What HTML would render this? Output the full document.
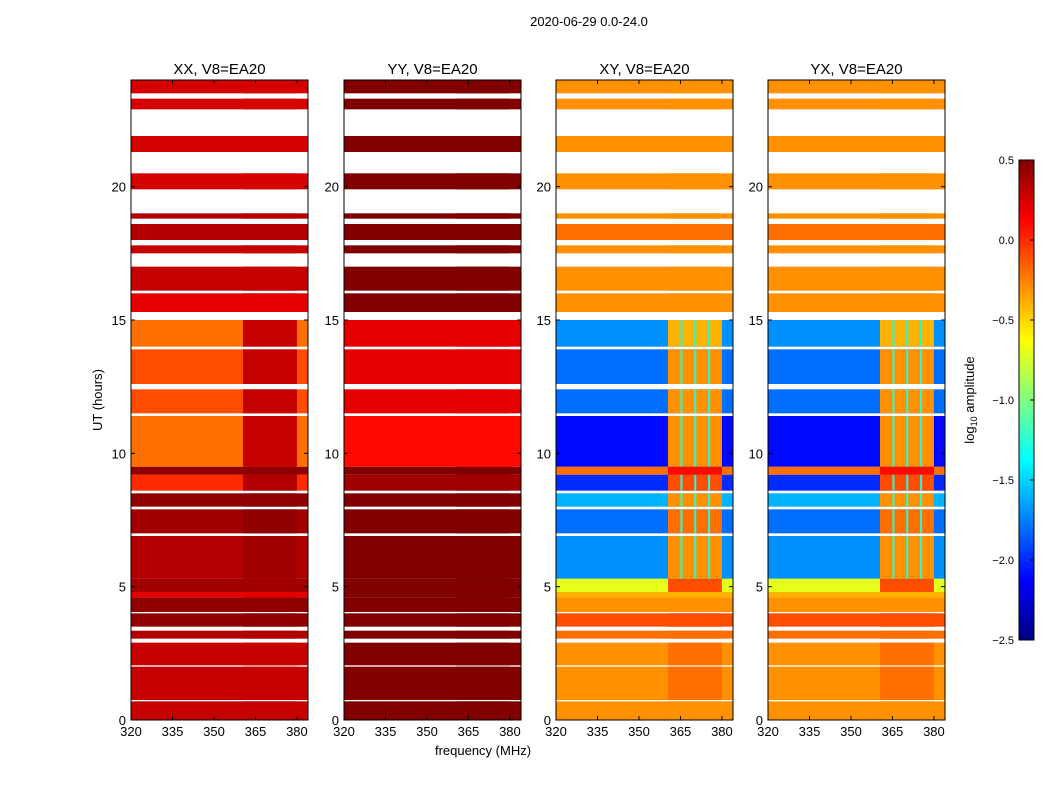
<!DOCTYPE html>
<html><head><meta charset="utf-8"><style>
html,body{margin:0;padding:0;background:#fff;}
svg{display:block;font-family:"Liberation Sans",sans-serif;}
</style></head><body>
<svg id="chart" width="1050" height="800" xmlns="http://www.w3.org/2000/svg">
<text x="589" y="26" font-size="13" text-anchor="middle">2020-06-29 0.0-24.0</text>
<text x="483" y="755" font-size="13" text-anchor="middle">frequency (MHz)</text>
<text x="102" y="400" font-size="13" text-anchor="middle" transform="rotate(-90 102 400)">UT (hours)</text>
<text x="974" y="400" font-size="13" text-anchor="middle" transform="rotate(-90 974 400)">log<tspan font-size="9" dy="3">10</tspan><tspan dy="-3"> amplitude</tspan></text>
</svg>
<script>
const bandStart = [0,0.7,0.75,2.0,2.05,2.9,3.05,3.35,3.5,4.0,4.05,4.6,4.8,5.3,6.9,7.0,7.9,8.0,8.5,8.6,9.2,9.5,11.4,11.5,12.4,12.6,13.9,14.0,15.0,15.3,16.0,16.1,17.0,17.5,17.8,18.0,18.6,18.8,19.0,19.9,20.5,21.3,21.9,22.3,22.9,23.3,23.5];
const bandEnd   = [0.7,0.75,2.0,2.05,2.9,3.05,3.35,3.5,4.0,4.05,4.6,4.8,5.3,6.9,7.0,7.9,8.0,8.5,8.6,9.2,9.5,11.4,11.5,12.4,12.6,13.9,14.0,15.0,15.3,16.0,16.1,17.0,17.5,17.8,18.0,18.6,18.8,19.0,19.9,20.5,21.3,21.9,22.3,22.9,23.3,23.5,24];
const xxVals    = [0.3,null,0.3,null,0.3,null,0.35,null,0.45,null,0.45,0.2,0.4,0.35,null,0.4,null,0.45,null,0.0,0.45,-0.2,null,-0.1,null,-0.1,null,-0.2,null,0.2,null,0.3,null,0.3,null,0.35,null,0.35,null,0.25,null,0.25,null,null,0.25,null,0.25];
const xxBlock   = [0.3,null,0.3,null,0.3,null,0.35,null,0.45,null,0.45,0.2,0.4,0.4,null,0.45,null,0.45,null,0.35,0.45,0.3,null,0.3,null,0.3,null,0.3,null,0.2,null,0.3,null,0.3,null,0.35,null,0.35,null,0.25,null,0.25,null,null,0.25,null,0.25];
const yyVals    = [0.5,null,0.5,null,0.5,null,0.5,null,0.5,null,0.5,0.5,0.5,0.5,null,0.5,null,0.5,null,0.4,0.5,0.1,null,0.2,null,0.2,null,0.2,null,0.5,null,0.5,null,0.5,null,0.5,null,0.5,null,0.5,null,0.5,null,null,0.5,null,0.5];
const xyVals    = [-0.3,null,-0.3,null,-0.3,null,-0.2,null,-0.1,null,-0.3,-0.4,-0.7,-1.7,null,-1.8,null,-1.6,null,-2.0,-0.2,-2.1,null,-1.8,null,-1.8,null,-1.7,null,-0.3,null,-0.3,null,-0.3,null,-0.2,null,-0.3,null,-0.3,null,-0.3,null,null,-0.3,null,-0.3];
const xyBlock   = [-0.3,null,-0.2,null,-0.2,null,-0.2,null,-0.1,null,-0.3,-0.4,-0.1,-0.3,null,-0.2,null,-0.3,null,-0.1,0.1,-0.3,null,-0.3,null,-0.3,null,-0.4,null,-0.3,null,-0.3,null,-0.3,null,-0.2,null,-0.3,null,-0.3,null,-0.3,null,null,-0.3,null,-0.3];
const panelTitles = ["XX, V8=EA20","YY, V8=EA20","XY, V8=EA20","YX, V8=EA20"];
const panelLeft = [131,344,556,768];
const blockFreq = [360.5,380];
const blockLines = [365,370,375];
const xTicks = [320,335,350,365,380];
const yTicks = [0,5,10,15,20];
const cbTicks = [0.5,0.0,-0.5,-1.0,-1.5,-2.0,-2.5];

const NS="http://www.w3.org/2000/svg";
const svg=document.getElementById('chart');
function mk(t,a,p){const e=document.createElementNS(NS,t);for(const k in a)e.setAttribute(k,a[k]);(p||svg).appendChild(e);return e;}
const PW=177, TOP=80, BOT=720, FMIN=320, FMAX=384, VMIN=-2.5, VMAX=0.5;
function yS(h){return BOT-(h/24)*(BOT-TOP);}
function xS(f,l){return l+(f-FMIN)/(FMAX-FMIN)*PW;}
function jet(v){let t=(v-VMIN)/(VMAX-VMIN);t=Math.max(0,Math.min(1,t));
 const r=Math.max(0,Math.min(1,1.5-Math.abs(4*t-3))),g=Math.max(0,Math.min(1,1.5-Math.abs(4*t-2))),b=Math.max(0,Math.min(1,1.5-Math.abs(4*t-1)));
 return `rgb(${Math.round(r*255)},${Math.round(g*255)},${Math.round(b*255)})`;}
const panelData=[[xxVals,xxBlock],[yyVals,yyVals],[xyVals,xyBlock],[xyVals,xyBlock]];
panelLeft.forEach((L,p)=>{
 const g=mk('g',{});
 
 
 const [vals,blk]=panelData[p];
 bandStart.forEach((s,i)=>{
  const y0=yS(bandEnd[i]),y1=yS(s);
  if(vals[i]!==null){
   const r=mk('rect',{x:L,y:y0,width:PW,height:y1-y0,fill:jet(vals[i])},g);
   
   
  }
  if(blk[i]!==null){
   const bx=xS(blockFreq[0],L),bw=xS(blockFreq[1],L)-bx;
   const r2=mk('rect',{x:bx,y:y0,width:bw,height:y1-y0,fill:jet(blk[i])},g);
   
   
   if(p>=2&&vals[i]<-1){blockLines.forEach(f=>{mk('rect',{x:xS(f,L),y:y0,width:2,height:y1-y0,fill:jet(-1.3)},g);});}
  }
 });
 const fr=mk('rect',{x:L,y:TOP,width:PW,height:BOT-TOP,fill:'none',stroke:'#000','stroke-width':1});
 
 
 const tt=mk('text',{x:L+PW/2,y:74,'font-size':15,'text-anchor':'middle'});tt.textContent=panelTitles[p];
 
 
 xTicks.forEach(f=>{const x=xS(f,L);mk('line',{x1:x,x2:x,y1:BOT,y2:BOT-4,stroke:'#000'});mk('line',{x1:x,x2:x,y1:TOP,y2:TOP+4,stroke:'#000'});
  const t=mk('text',{x:x,y:BOT+16,'font-size':13,'text-anchor':'middle'});t.textContent=f;
  
  });
 yTicks.forEach(h=>{const y=yS(h);mk('line',{x1:L,x2:L+4,y1:y,y2:y,stroke:'#000'});mk('line',{x1:L+PW,x2:L+PW-4,y1:y,y2:y,stroke:'#000'});
  const t=mk('text',{x:L-5,y:y+5,'font-size':13,'text-anchor':'end'});t.textContent=h;
  
  });
});
// colorbar
const CBX=1019,CBW=15,CBT=160,CBB=640;
function cbY(v){return CBB-(v-VMIN)/(VMAX-VMIN)*(CBB-CBT);}
const defs=mk('defs',{});const lg=mk('linearGradient',{id:'jetg',x1:0,y1:1,x2:0,y2:0},defs);
for(let i=0;i<=8;i++){mk('stop',{offset:i/8,'stop-color':jet(VMIN+i/8*(VMAX-VMIN))},lg);}
const cb=mk('rect',{x:CBX,y:CBT,width:CBW,height:CBB-CBT,fill:'url(#jetg)',stroke:'#000'});


cbTicks.forEach(v=>{const y=cbY(v);mk('line',{x1:CBX+CBW-4,x2:CBX+CBW,y1:y,y2:y,stroke:'#000'});
 const t=mk('text',{x:CBX-5,y:y+4,'font-size':11,'text-anchor':'end'});t.textContent=(v<0?'\u2212'+Math.abs(v).toFixed(1):v.toFixed(1));
 
 });
</script>
</body></html>
